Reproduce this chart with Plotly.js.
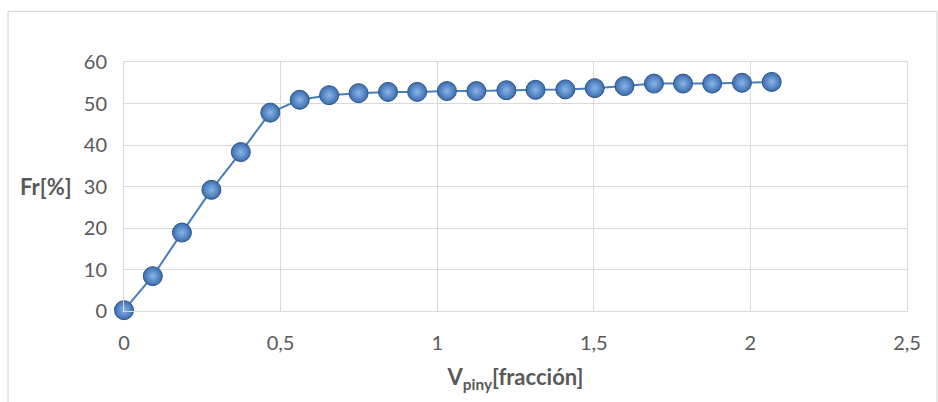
<!DOCTYPE html>
<html>
<head>
<meta charset="utf-8">
<script src="https://cdn.plot.ly/plotly-3.0.1.min.js"></script>
<style>html,body{margin:0;padding:0;background:#fff;}#chart{width:938px;height:402px;}</style>
</head>
<body>
<div id="chart"></div>
<script>
var vPiny = [0, 0.092, 0.185, 0.279, 0.373, 0.467, 0.561, 0.655, 0.749, 0.843, 0.936, 1.031, 1.125, 1.221, 1.314, 1.409, 1.503, 1.598, 1.692, 1.785, 1.878, 1.973, 2.068];
var frPct = [0.2, 8.4, 18.9, 29.2, 38.3, 47.8, 50.9, 52.0, 52.5, 52.8, 52.8, 53.0, 53.0, 53.2, 53.3, 53.4, 53.7, 54.2, 54.8, 54.8, 54.8, 55.0, 55.2];
var xTitle = '<b>V<sub>piny</sub>[fracción]</b>';
var yTitle = '<b>Fr[%]</b>';

var font = 'Lato, "Open Sans", sans-serif';
var grid = '#d9d9d9';

var trace = {
  x: vPiny, y: frPct, type: 'scatter', mode: 'lines+markers',
  cliponaxis: false,
  line: {color: '#4a7ebb', width: 2},
  marker: {size: 19, color: '#3a6cad', line: {color: '#2c5488', width: 1},
           gradient: {type: 'radial', color: '#8ab5ea'}},
  hoverinfo: 'none'
};

var layout = {
  width: 938, height: 402,
  margin: {l: 124.4, r: 30.5, t: 61.5, b: 91.3},
  paper_bgcolor: '#fff', plot_bgcolor: '#fff',
  separators: ', ',
  font: {family: font, size: 20, color: '#595959'},
  showlegend: false,
  xaxis: {
    range: [0, 2.5], dtick: 0.5, tick0: 0,
    showgrid: true, gridcolor: grid, gridwidth: 1,
    zeroline: false, showline: true, linecolor: grid, linewidth: 1, mirror: true,
    ticks: 'outside', ticklen: 14, tickcolor: 'rgba(0,0,0,0)',
    title: {text: xTitle, font: {family: font, size: 22, color: '#595959'}, standoff: 16}
  },
  yaxis: {
    range: [0, 60], dtick: 10, tick0: 0,
    showgrid: true, gridcolor: grid, gridwidth: 1,
    zeroline: false, showline: true, linecolor: grid, linewidth: 1, mirror: true,
    ticks: 'outside', ticklen: 12, tickcolor: 'rgba(0,0,0,0)'
  },
  annotations: [{
    text: yTitle, xref: 'paper', yref: 'y', x: -0.064, y: 30, xanchor: 'right', yanchor: 'middle',
    showarrow: false, font: {family: font, size: 22, color: '#595959'}
  }],
  shapes: [{
    type: 'rect', xref: 'paper', yref: 'paper',
    x0: -0.148, x1: 1.0383, y0: -0.5, y1: 1.2036,
    line: {color: grid, width: 1.2}, fillcolor: 'rgba(0,0,0,0)', layer: 'below'
  }]
};

Plotly.newPlot('chart', [trace], layout, {displayModeBar: false, staticPlot: true});
</script>
</body>
</html>
